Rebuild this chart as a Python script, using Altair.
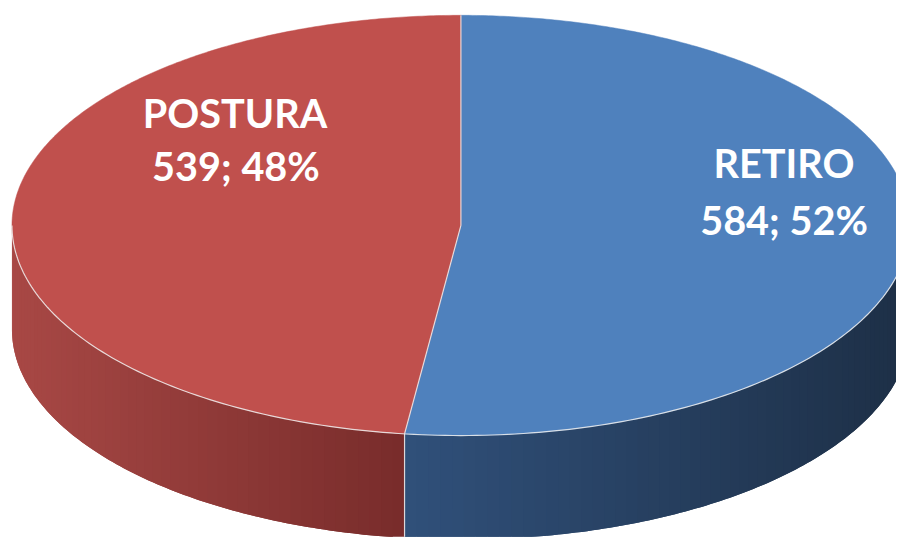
import math
import altair as alt

# ---- data ----
CATEGORIES = ["RETIRO", "POSTURA"]
VALUES = [584, 539]

# ---- styles / layout ----
TOP_COLORS = ["#4f81bd", "#c0504d"]
SIDE_LEFT = ["#30507a", "#a84845"]   # side colour at the left end of each slice's wall
SIDE_RIGHT = ["#1d2f46", "#782c2b"]  # side colour at the right end
EDGE = "#f0f0f0"
CX, CY, RX, RY, DEPTH = 465.0, 225.0, 453.0, 212.0, 105.0
OFFSET = 8  # page margin
LABEL_POS = {"RETIRO": [(791, 165), (791, 223)], "POSTURA": [(237, 115), (238, 168)]}
PROJ = dict(type="identity", scale=1, translate=[-OFFSET, -OFFSET])


def pt(t_deg, dy=0.0):
    t = math.radians(t_deg)
    return [CX + RX * math.sin(t), CY - RY * math.cos(t) + dy]


def hex_mix(c1, c2, f):
    a = [int(c1[i:i + 2], 16) for i in (1, 3, 5)]
    b = [int(c2[i:i + 2], 16) for i in (1, 3, 5)]
    return "#" + "".join(f"{round(a[k] + (b[k] - a[k]) * f):02x}" for k in range(3))


def feat(coords, fill, kind="Polygon"):
    geom = {"type": kind, "coordinates": [coords] if kind == "Polygon" else coords}
    return {"type": "Feature", "geometry": geom, "properties": {"fill": fill}}


total = sum(VALUES)
angles = []
start = 0.0
for v in VALUES:
    end = start + 360.0 * v / total
    angles.append((start, end))
    start = end

side_feats, top_feats, edge_feats = [], [], []
for i, (t0, t1) in enumerate(angles):
    n = max(8, int((t1 - t0) * 2))
    ring = [[CX, CY]] + [pt(t0 + (t1 - t0) * k / n) for k in range(n + 1)] + [[CX, CY]]
    top_feats.append(feat(ring, TOP_COLORS[i]))
    lo, hi = max(t0, 90.0), min(t1, 270.0)
    if lo < hi:
        m = max(4, int((hi - lo) / 1.5))
        step = (hi - lo) / m
        xs = [pt(lo)[0], pt(hi)[0]]
        xmin, xmax = min(xs), max(xs)
        for k in range(m):
            a = lo + step * k
            b = min(hi, a + 2 * step)  # overlap the next strip to hide seams
            pts_top = [pt(a + (b - a) * j / 4) for j in range(5)]
            pts_bot = [pt(a + (b - a) * j / 4, DEPTH) for j in range(5)][::-1]
            xm = pt(a + step / 2)[0]
            f = (xm - xmin) / (xmax - xmin) if xmax > xmin else 0
            col = hex_mix(SIDE_LEFT[i], SIDE_RIGHT[i], f)
            side_feats.append(feat(pts_top + pts_bot + [pts_top[0]], col))
    edge_feats.append(feat([[CX, CY], pt(t0)], EDGE, "LineString"))
    if 90 <= t0 <= 270:
        edge_feats.append(feat([pt(t0), pt(t0, DEPTH)], EDGE, "LineString"))

edge_feats.append(feat([pt(90 + k) for k in range(181)], EDGE, "LineString"))

sides = alt.Chart(alt.Data(values=side_feats)).mark_geoshape(strokeWidth=0).encode(
    fill=alt.Fill("properties.fill:N", scale=None),
).project(**PROJ)

tops = alt.Chart(alt.Data(values=top_feats)).mark_geoshape(strokeWidth=0.5).encode(
    fill=alt.Fill("properties.fill:N", scale=None),
    stroke=alt.Stroke("properties.fill:N", scale=None),
).project(**PROJ)

edges = alt.Chart(alt.Data(values=edge_feats)).mark_geoshape(
    filled=False, stroke=EDGE, strokeWidth=1.2, strokeOpacity=0.85
).encode(opacity=alt.value(1)).project(**PROJ)

rows = []
for cat, v in zip(CATEGORIES, VALUES):
    pct = round(100 * v / total)
    lines = [cat, f"{v}; {pct}%"]
    for (lx, ly), txt in zip(LABEL_POS[cat], lines):
        rows.append({"lon": lx, "lat": ly, "txt": txt})

labels = alt.Chart(alt.Data(values=rows)).mark_text(
    font="Lato", fontWeight="bold", fontSize=40, color="#ffffff",
    align="center", baseline="middle"
).encode(longitude="lon:Q", latitude="lat:Q", text="txt:N").project(**PROJ)

chart = alt.layer(sides, tops, edges, labels).properties(
    width=896, height=531, padding=0, autosize="none"
).configure_view(stroke=None)

chart.save("out.html", embed_options={"renderer": "svg", "actions": False})
